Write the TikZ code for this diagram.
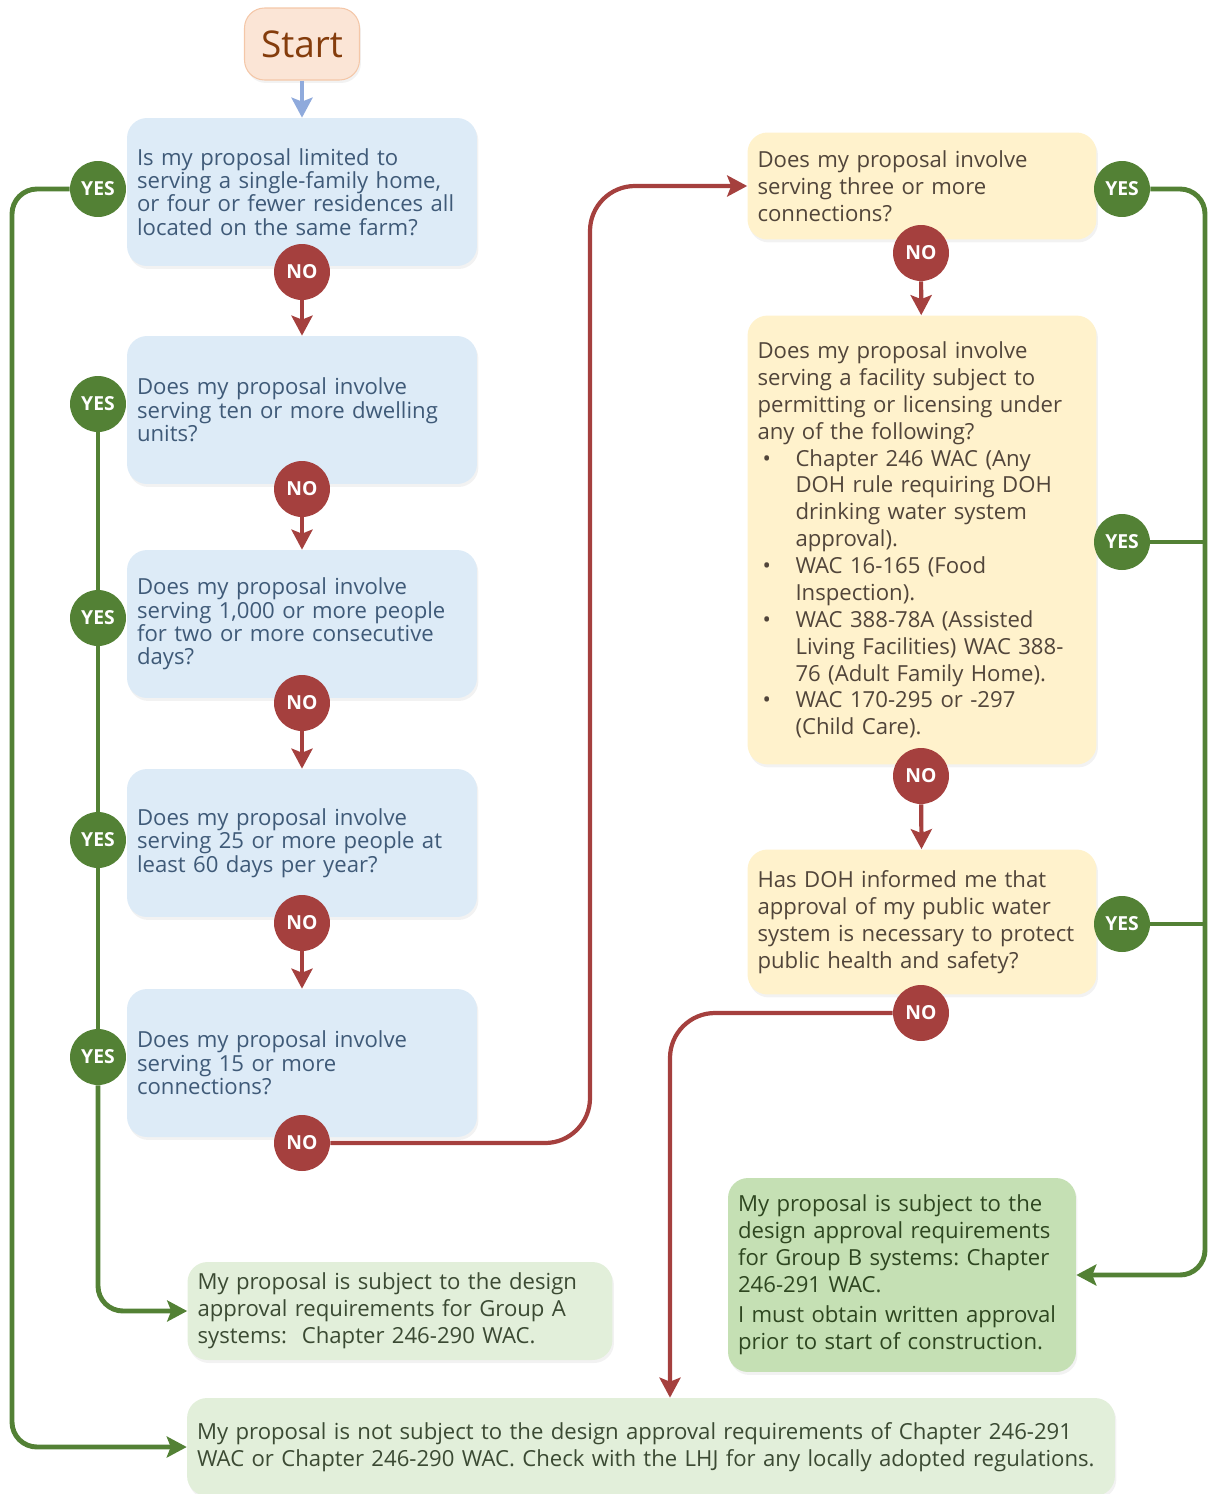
\documentclass[tikz,border=0pt]{standalone}
\usepackage{fontspec}
\setmainfont{Open Sans}
\usetikzlibrary{arrows.meta,shadows}
\definecolor{qfill}{HTML}{DDEBF7}
\definecolor{qtext}{HTML}{3F5A78}
\definecolor{rfill}{HTML}{FFF2CC}
\definecolor{rtext}{HTML}{51453A}
\definecolor{afill}{HTML}{E2EFDA}
\definecolor{atext}{HTML}{3B4A33}
\definecolor{bfill}{HTML}{C5E0B4}
\definecolor{btext}{HTML}{2E4620}
\definecolor{nored}{HTML}{A5403E}
\definecolor{yesgreen}{HTML}{538135}
\definecolor{sfill}{HTML}{FBE5D6}
\definecolor{sdraw}{HTML}{F4C7A8}
\definecolor{stext}{HTML}{843C0C}
\definecolor{sarrow}{HTML}{8FAADC}
\newcommand{\bul}{\makebox[0.76cm][l]{\hspace{0.1cm}\textbullet}}
\newcommand{\cont}{\hspace*{0.76cm}}
\frenchspacing

\begin{document}
\begin{tikzpicture}[x=0.02cm,y=-0.02cm,
  panel/.style={rectangle,rounded corners=0.4cm,align=left,inner xsep=0.2cm,inner ysep=0.1cm,font=\fontsize{12.6}{13.3}\selectfont,drop shadow={opacity=0.1,shadow xshift=0.03cm,shadow yshift=-0.06cm}},
  qbox/.style={panel,fill=qfill,text=qtext,text width=6.6cm,minimum height=2.96cm},
  rbox/.style={panel,fill=rfill,text=rtext,text width=6.58cm,font=\fontsize{12.6}{15.3}\selectfont},
  abox/.style={panel,fill=afill,text=atext,font=\fontsize{12.6}{15.3}\selectfont},
  yescirc/.style={circle,fill=yesgreen,text=white,minimum size=1.12cm,inner sep=0pt,font=\fontsize{11}{12}\selectfont\bfseries},
  nocirc/.style={yescirc,fill=nored},
  yesline/.style={draw=yesgreen,line width=2.8pt,rounded corners=0.5cm},
  noline/.style={draw=nored,line width=2.4pt,rounded corners=0.9cm},
  endtip/.style={-{Stealth[length=0.4cm,width=0.42cm,inset=0.08cm]}}]
\useasboundingbox (0,0) rectangle (1208,1494);
\coordinate (lrail) at (12,0);
\coordinate (mrail) at (590,0);
\coordinate (drop) at (670,0);
\coordinate (rrail) at (1205,0);

\node[panel,fill=sfill,draw=sdraw,line width=0.6pt,text=stext,minimum width=2.3cm,minimum height=1.44cm,align=center,font=\fontsize{21}{24}\selectfont] (start) at (302,44) {Start};

\node[qbox] (q1) at (302,192) {Is my proposal limited to\\ serving a single-family home,\\ or four or fewer residences all\\ located on the same farm?};
\node[qbox] (q2) at (302,410) {Does my proposal involve\\ serving ten or more dwelling\\ units?};
\node[qbox] (q3) at (302,624) {Does my proposal involve\\ serving 1,000 or more people\\ for two or more consecutive\\ days?};
\node[qbox] (q4) at (302,843) {Does my proposal involve\\ serving 25 or more people at\\ least 60 days per year?};
\node[qbox] (q5) at (302,1063) {Does my proposal involve\\ serving 15 or more\\ connections?};

\node[rbox,minimum height=2.14cm] (r1) at (922,186) {Does my proposal involve\\ serving three or more\\ connections?};
\node[rbox,minimum height=8.98cm] (r2) at (922,540) {Does my proposal involve\\ serving a facility subject to\\ permitting or licensing under\\ any of the following?\\
\bul Chapter 246 WAC (Any\\ \cont DOH rule requiring DOH\\ \cont drinking water system\\ \cont approval).\\
\bul WAC 16-165 (Food\\ \cont Inspection).\\
\bul WAC 388-78A (Assisted\\ \cont Living Facilities) WAC 388-\\ \cont 76 (Adult Family Home).\\
\bul WAC 170-295 or -297\\ \cont (Child Care).};
\node[rbox,minimum height=2.9cm] (r3) at (922,922) {Has DOH informed me that\\ approval of my public water\\ system is necessary to protect\\ public health and safety?};

\node[abox,fill=bfill,text=btext,text width=6.56cm,minimum height=3.88cm] (groupb) at (902,1275) {My proposal is subject to the\\ design approval requirements\\ for Group B systems: Chapter\\ 246-291 WAC.\\[2pt] I must obtain written approval\\ prior to start of construction.};
\node[abox,text width=8.1cm,minimum height=1.96cm] (groupa) at (400,1311) {My proposal is subject to the design\\ approval requirements for Group A\\ systems:~ Chapter 246-290 WAC.};
\node[abox,text width=18.16cm,minimum height=1.96cm] (exempt) at (651,1447) {My proposal is not subject to the design approval requirements of Chapter 246-291\\ WAC or Chapter 246-290 WAC. Check with the LHJ for any locally adopted regulations.};

\node[yescirc] (yes1) at (98,189) {YES};
\node[yescirc] (yes2) at (98,404) {YES};
\node[yescirc] (yes3) at (98,618) {YES};
\node[yescirc] (yes4) at (98,840) {YES};
\node[yescirc] (yes5) at (98,1057) {YES};
\node[nocirc] (no1) at (302,272) {NO};
\node[nocirc] (no2) at (302,489) {NO};
\node[nocirc] (no3) at (302,703) {NO};
\node[nocirc] (no4) at (302,923) {NO};
\node[nocirc] (no5) at (302,1143) {NO};
\node[yescirc] (yes6) at (1122,189) {YES};
\node[yescirc] (yes7) at (1122,542) {YES};
\node[yescirc] (yes8) at (1122,924) {YES};
\node[nocirc] (no6) at (921,253) {NO};
\node[nocirc] (no7) at (921,776) {NO};
\node[nocirc] (no8) at (921,1013) {NO};

\draw[sarrow,line width=2.6pt,endtip] (start) -- (q1);
\draw[noline,endtip] (no1) -- (q2);
\draw[noline,endtip] (no2) -- (q3);
\draw[noline,endtip] (no3) -- (q4);
\draw[noline,endtip] (no4) -- (q5);
\draw[noline,endtip] (no5.east) -| (mrail |- r1.west) -- (r1.west);
\draw[noline,endtip] (no6) -- (r2);
\draw[noline,endtip] (no7) -- (r3);
\draw[noline,endtip] (no8.west) -| (drop |- exempt.north);

\draw[yesline,endtip] (yes1.west) -| (lrail |- exempt.west) -- (exempt.west);
\draw[yesline] (yes2) -- (yes3);
\draw[yesline] (yes3) -- (yes4);
\draw[yesline] (yes4) -- (yes5);
\draw[yesline,endtip] (yes5.south) |- (groupa.west);
\draw[yesline,endtip] (yes6.east) -| (rrail |- groupb.east) -- (groupb.east);
\draw[yesline] (yes7.east) -- (yes7.east -| rrail);
\draw[yesline] (yes8.east) -- (yes8.east -| rrail);
\end{tikzpicture}
\end{document}
